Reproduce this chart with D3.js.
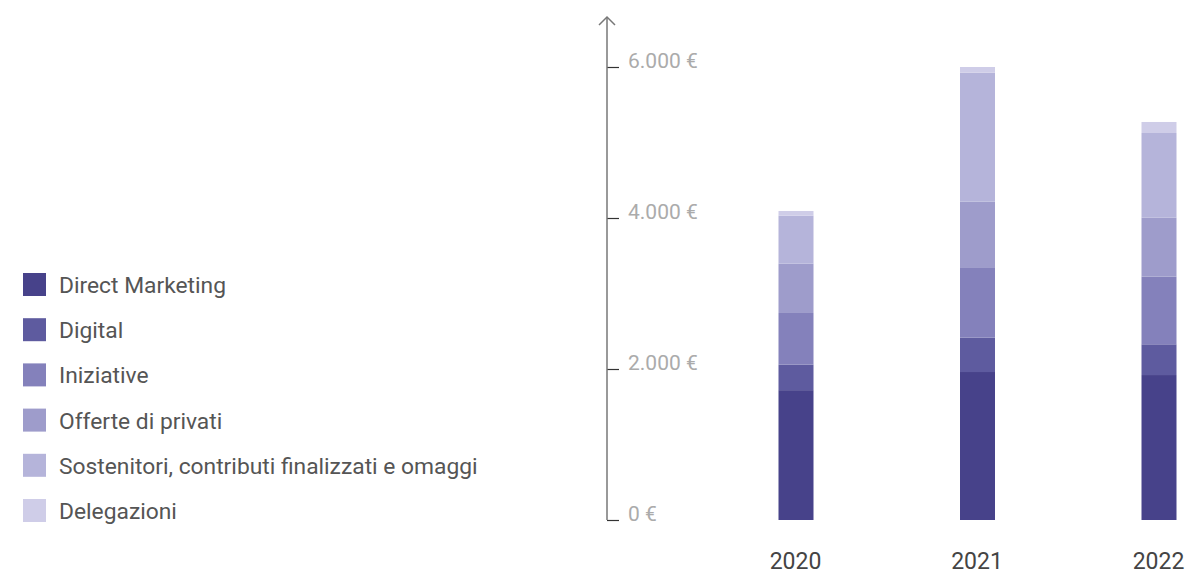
<!DOCTYPE html>
<html>
<head>
<meta charset="utf-8">
<script src="https://cdn.jsdelivr.net/npm/d3@7"></script>
<style>
  html, body { margin: 0; padding: 0; background: #fff; }
  svg { display: block; font-family: Roboto, "Noto Sans", sans-serif; }
</style>
</head>
<body>
<svg id="chart" width="1189" height="576"></svg>
<script>
// Raccolta fondi per canale (€), per anno
const years = ["2020", "2021", "2022"];
const seriesNames = [
  "Direct Marketing",
  "Digital",
  "Iniziative",
  "Offerte di privati",
  "Sostenitori, contributi finalizzati e omaggi",
  "Delegazioni"
];
const directMarketing = [1720, 1960, 1920];
const digital         = [337, 455, 407];
const iniziative      = [685, 923, 896];
const offerte         = [653, 878, 781];
const sostenitori     = [636, 1709, 1122];
const delegazioni     = [62, 75, 146];
const yTicks = [0, 2000, 4000, 6000];

const seriesColors = ["#47428a", "#5e5b9f", "#8481bb", "#9e9ccb", "#b5b4da", "#cfcde8"];

const columns = [directMarketing, digital, iniziative, offerte, sostenitori, delegazioni];
const table = years.map((y, i) => {
  const row = { year: y };
  seriesNames.forEach((s, k) => { row[s] = columns[k][i]; });
  return row;
});

const svg = d3.select("#chart");

const y = d3.scaleLinear().domain([0, 6000]).range([520, 67]);
const x = d3.scalePoint().domain(years).range([795, 1158]);
const barW = 35;
const color = d3.scaleOrdinal().domain(seriesNames).range(seriesColors);

const stacked = d3.stack().keys(seriesNames)(table);

// stacked bars
svg.append("g")
  .selectAll("g")
  .data(stacked)
  .join("g")
    .attr("fill", d => color(d.key))
  .selectAll("rect")
  .data(d => d)
  .join("rect")
    .attr("x", d => x(d.data.year) - barW / 2 + 1)
    .attr("y", d => y(d[1]))
    .attr("width", barW)
    .attr("height", d => y(d[0]) - y(d[1]));

// value axis
const itLocale = d3.formatLocale({ decimal: ",", thousands: ".", grouping: [3], currency: ["", " €"] });
const fmt = itLocale.format(",.0f");

const axisX = 607;
const yAxis = svg.append("g")
  .attr("transform", `translate(${axisX},0)`)
  .call(d3.axisRight(y).tickValues(yTicks).tickSize(12).tickPadding(9).tickFormat(d => fmt(d) + " €"));
yAxis.select(".domain").remove();
yAxis.selectAll(".tick line").attr("stroke", "#333").attr("stroke-width", 1.2);
yAxis.selectAll(".tick text")
  .attr("dy", "0")
  .attr("fill", "#ababab")
  .attr("font-size", 21)
  .attr("font-family", "Roboto, sans-serif");

// axis line with arrow head
svg.append("line")
  .attr("x1", axisX).attr("x2", axisX)
  .attr("y1", y(0)).attr("y2", 17)
  .attr("stroke", "#777").attr("stroke-width", 1.5);
svg.append("path")
  .attr("d", `M${axisX - 8},25 L${axisX},17 L${axisX + 8},25`)
  .attr("fill", "none").attr("stroke", "#777").attr("stroke-width", 1.5);

// year labels
const xAxis = svg.append("g")
  .attr("transform", "translate(0,569)")
  .call(d3.axisBottom(x).tickSize(0).tickPadding(0));
xAxis.select(".domain").remove();
xAxis.selectAll(".tick text")
  .attr("dy", "0")
  .attr("fill", "#444")
  .attr("font-size", 23)
  .attr("font-family", "Roboto, sans-serif");

// legend
const legend = svg.append("g")
  .selectAll("g")
  .data(seriesNames)
  .join("g")
    .attr("transform", (d, i) => `translate(23,${273 + i * 45.2})`);
legend.append("rect")
  .attr("width", 23).attr("height", 23)
  .attr("fill", d => color(d));
legend.append("text")
  .attr("x", 36).attr("y", 20)
  .attr("fill", "#555")
  .attr("font-size", 22.8)
  .text(d => d);
</script>
</body>
</html>
